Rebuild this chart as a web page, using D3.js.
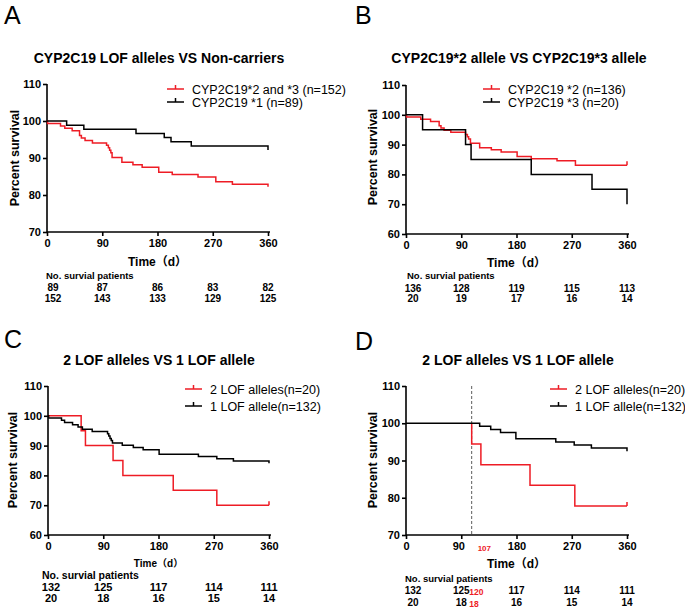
<!DOCTYPE html>
<html>
<head>
<meta charset="utf-8">
<script src="https://cdn.jsdelivr.net/npm/d3@7"></script>
<style>
  html, body { margin: 0; padding: 0; background: #fff; }
  svg { display: block; }
  text { font-family: "Liberation Sans", Arial, "Noto Sans CJK SC", sans-serif; }
</style>
</head>
<body>
<svg id="chart" width="685" height="607"></svg>
<script>
// ---------------- DATA ----------------
const timeTicks = [0, 90, 180, 270, 360];
const panelLetters = ["A", "B", "C", "D"];
const tableHeader = "No. survial patients";
const yAxisLabel = "Percent survival";
const xAxisLabel = "Time（d）";

// Panel A
const aTitle = "CYP2C19 LOF alleles VS Non-carriers";
const aYTicks = [70, 80, 90, 100, 110];
const aLegend = ["CYP2C19*2 and *3 (n=152)", "CYP2C19 *1 (n=89)"];
const aLofTimes = [0, 1, 22, 29, 41, 53, 56, 62, 74, 97, 100, 102, 104, 106, 122, 140, 155, 182, 204, 246, 275, 302, 360];
const aLofSurv  = [100, 99.34, 98.68, 98.03, 97.37, 96.05, 95.39, 94.74, 94.08, 93.42, 92.76, 92.11, 91.45, 90.13, 88.82, 88.16, 87.5, 86.18, 85.53, 84.87, 83.55, 82.89, 82.24];
const aNonTimes = [0, 32, 60, 145, 191, 202, 235, 360];
const aNonSurv  = [100, 98.88, 97.75, 96.63, 95.51, 94.38, 93.26, 92.13];
const aTableRow1 = [89, 87, 86, 83, 82];
const aTableRow2 = [152, 143, 133, 129, 125];

// Panel B
const bTitle = "CYP2C19*2 allele VS CYP2C19*3 allele";
const bYTicks = [60, 70, 80, 90, 100, 110];
const bLegend = ["CYP2C19 *2 (n=136)", "CYP2C19 *3 (n=20)"];
const bStar2Times = [0, 1, 24, 40, 54, 57, 62, 73, 97, 100, 102, 105, 120, 139, 155, 181, 204, 246, 276];
const bStar2Surv  = [100, 99.26, 98.53, 97.79, 96.32, 95.59, 94.85, 94.12, 93.38, 92.65, 91.91, 90.44, 88.97, 88.24, 87.5, 86.03, 85.29, 84.56, 83.09];
const bStar3Times = [0, 27, 97, 106, 204, 303, 360];
const bStar3Surv  = [100, 95, 90, 85, 80, 75, 70];
const bTableRow1 = [136, 128, 119, 115, 113];
const bTableRow2 = [20, 19, 17, 16, 14];

// Panel C
const cTitle = "2 LOF alleles VS 1 LOF allele";
const cYTicks = [60, 70, 80, 90, 100, 110];
const cLegend = ["2 LOF alleles(n=20)", "1 LOF allele(n=132)"];
const cTwoTimes = [0, 54, 61, 106, 122, 204, 275];
const cTwoSurv  = [100, 95, 90, 85, 80, 75, 70];
const cOneTimes = [0, 1, 22, 27, 40, 49, 56, 72, 97, 99, 101, 103, 105, 121, 139, 155, 181, 245, 275, 302, 360];
const cOneSurv  = [100, 99.24, 98.48, 97.73, 96.97, 96.21, 95.45, 94.70, 93.94, 93.18, 92.42, 91.67, 90.91, 90.15, 89.39, 88.64, 87.12, 86.36, 85.61, 84.85, 84.09];
const cTableRow1 = [132, 125, 117, 114, 111];
const cTableRow2 = [20, 18, 16, 15, 14];

// Panel D (landmark analysis from day 107)
const dTitle = "2 LOF alleles VS 1 LOF allele";
const dYTicks = [70, 80, 90, 100, 110];
const dLegend = ["2 LOF alleles(n=20)", "1 LOF allele(n=132)"];
const dLandmark = 107;
const dTwoTimes = [107, 107, 122, 202, 275];
const dTwoSurv  = [100, 94.44, 88.89, 83.33, 77.78];
const dOneTimes = [0, 120, 138, 154, 179, 244, 274, 302, 360];
const dOneSurv  = [100, 99.17, 98.33, 97.5, 95.83, 95.0, 94.17, 93.33, 92.5];
const dTableRow1 = [132, 125, 117, 114, 111];
const dTableRow2 = [20, 18, 16, 15, 14];
const dLandmarkCounts = [120, 18];

// ---------------- DRAWING ----------------
const RED = "#ee1c25";
const svg = d3.select("#chart");
svg.append("rect").attr("width", 685).attr("height", 607).attr("fill", "#fff");

function drawPanel(p) {
  const g = svg.append("g");
  const x = d3.scaleLinear().domain([0, 360]).range([p.x0, p.x1]);
  const y = d3.scaleLinear().domain(p.yDomain).range([p.yBot, p.yTop]);

  // panel letter
  g.append("text").attr("x", p.letterX).attr("y", p.letterY)
    .attr("font-size", 25).attr("font-weight", "normal").text(p.letter);
  // title
  g.append("text").attr("x", p.titleX).attr("y", p.titleY).attr("text-anchor", "middle")
    .attr("font-size", 14).attr("font-weight", "bold").text(p.title);

  // axes
  const yAxis = d3.axisLeft(y).tickValues(p.yTicks).tickSize(4).tickPadding(2).tickSizeOuter(0);
  const xAxis = d3.axisBottom(x).tickValues(timeTicks).tickSize(4).tickPadding(3).tickSizeOuter(0);
  const ya = g.append("g").attr("transform", `translate(${p.x0},0)`).call(yAxis);
  const xa = g.append("g").attr("transform", `translate(0,${p.yBot})`).call(xAxis);
  [ya, xa].forEach(a => {
    a.select(".domain").attr("stroke", "#000").attr("stroke-width", 1.6);
    a.selectAll(".tick line").attr("stroke", "#000").attr("stroke-width", 1.6);
    a.selectAll(".tick text").attr("fill", "#000").attr("font-size", 11).attr("font-weight", "bold")
      .attr("font-family", '"Liberation Sans", Arial, sans-serif');
  });
  xa.select(".domain").attr("d", `M${p.x0},0H${p.x1 + 2}`);
  ya.select(".domain").attr("d", `M0,${p.yBot}V${p.yTop}`);
  if (p.shift90) xa.selectAll(".tick text").filter(d => d === 90).attr("dx", -3);

  // y label
  g.append("text").attr("transform", `translate(${p.yLabelX},${p.yLabelY}) rotate(-90)`)
    .attr("text-anchor", "middle").attr("font-size", 12.5).attr("font-weight", "bold").text(yAxisLabel);
  // x label
  g.append("text").attr("x", (p.x0 + p.x1) / 2).attr("y", p.xLabelY).attr("text-anchor", "middle")
    .attr("font-size", p.xLabelSize).attr("font-weight", "bold").text(xAxisLabel);

  // landmark dashed line
  if (p.landmark !== undefined) {
    g.append("line").attr("x1", x(p.landmark)).attr("x2", x(p.landmark))
      .attr("y1", y(p.yDomain[1])).attr("y2", p.yBot)
      .attr("stroke", "#333").attr("stroke-width", 0.8).attr("stroke-dasharray", "3,2");
    g.append("text").attr("x", x(p.landmark) + 6).attr("y", p.yBot + 16).attr("text-anchor", "start")
      .attr("font-size", 8).attr("font-weight", "bold").attr("fill", RED).text(p.landmark);
  }

  // curves
  const line = d3.line().x(d => x(d[0])).y(d => y(d[1])).curve(d3.curveStepAfter);
  p.series.forEach(s => {
    const pts = s.times.map((t, i) => [t, s.surv[i]]);
    const last = pts[pts.length - 1];
    if (last[0] < 360) pts.push([360, last[1]]);
    g.append("path").attr("d", line(pts)).attr("fill", "none")
      .attr("stroke", s.color).attr("stroke-width", 1.5);
    if (s.censorEnd) {
      g.append("line").attr("x1", x(360)).attr("x2", x(360))
        .attr("y1", y(last[1])).attr("y2", y(last[1]) - 4)
        .attr("stroke", s.color).attr("stroke-width", 1.5);
    }
  });

  // legend
  p.series.forEach((s, i) => {
    const ly = p.legY + i * p.legDy;
    g.append("line").attr("x1", p.legX).attr("x2", p.legX + 17).attr("y1", ly).attr("y2", ly)
      .attr("stroke", s.color).attr("stroke-width", 1.5);
    g.append("line").attr("x1", p.legX + 8.5).attr("x2", p.legX + 8.5).attr("y1", ly).attr("y2", ly - 4)
      .attr("stroke", s.color).attr("stroke-width", 1.5);
    g.append("text").attr("x", p.legX + 25).attr("y", ly + 4.5)
      .attr("font-size", 12.5).text(s.label);
  });

  // table
  g.append("text").attr("x", p.tabX).attr("y", p.tabHeadY).attr("font-size", p.tabHeadSize)
    .attr("font-weight", "bold").text(tableHeader);
  p.rows.forEach((row, r) => {
    row.forEach((v, i) => {
      const cx = x(timeTicks[i]) + (i === 0 ? p.firstColDx : 0);
      g.append("text").attr("x", cx).attr("y", p.tabRowY[r]).attr("text-anchor", "middle")
        .attr("font-size", p.tabNumSize).attr("font-weight", "bold").text(v);
    });
  });
  if (p.extraCounts) {
    p.extraCounts.forEach((v, r) => {
      g.append("text").attr("x", x(90) + 8).attr("y", p.tabRowY[r] + 0.5)
        .attr("font-size", 8.5).attr("font-weight", "bold").attr("fill", RED).text(v);
    });
  }
}

drawPanel({
  letter: panelLetters[0], letterX: 4, letterY: 24, title: aTitle, titleX: 159, titleY: 63,
  x0: 47, x1: 268, yTop: 84, yBot: 232, yDomain: [70, 110], yTicks: aYTicks,
  yLabelX: 19, yLabelY: 158, xLabelY: 266, xLabelSize: 12,
  legX: 167, legY: 89, legDy: 13,
  series: [
    { times: aLofTimes, surv: aLofSurv, color: RED, label: aLegend[0] },
    { times: aNonTimes, surv: aNonSurv, color: "#000", label: aLegend[1] }
  ],
  tabX: 46, tabHeadY: 279, tabHeadSize: 9.5, tabRowY: [291, 302], tabNumSize: 10, firstColDx: 6,
  rows: [aTableRow1, aTableRow2]
});

drawPanel({
  letter: panelLetters[1], letterX: 355, letterY: 24, title: bTitle, titleX: 519, titleY: 63,
  x0: 406, x1: 627, yTop: 85, yBot: 234, yDomain: [60, 110], yTicks: bYTicks,
  yLabelX: 377, yLabelY: 157, xLabelY: 267, xLabelSize: 12,
  legX: 483, legY: 89, legDy: 13,
  series: [
    { times: bStar2Times, surv: bStar2Surv, color: RED, label: bLegend[0], censorEnd: true },
    { times: bStar3Times, surv: bStar3Surv, color: "#000", label: bLegend[1] }
  ],
  tabX: 407, tabHeadY: 279, tabHeadSize: 9.5, tabRowY: [292, 302], tabNumSize: 10, firstColDx: 7,
  rows: [bTableRow1, bTableRow2]
});

drawPanel({
  letter: panelLetters[2], letterX: 4, letterY: 348, title: cTitle, titleX: 159, titleY: 365,
  x0: 48, x1: 269, yTop: 386, yBot: 535, yDomain: [60, 110], yTicks: cYTicks,
  yLabelX: 17, yLabelY: 460, xLabelY: 567, xLabelSize: 10,
  legX: 185, legY: 389, legDy: 17,
  series: [
    { times: cTwoTimes, surv: cTwoSurv, color: RED, label: cLegend[0], censorEnd: true },
    { times: cOneTimes, surv: cOneSurv, color: "#000", label: cLegend[1] }
  ],
  tabX: 42, tabHeadY: 579, tabHeadSize: 10.5, tabRowY: [591, 602], tabNumSize: 11, firstColDx: 3,
  rows: [cTableRow1, cTableRow2]
});

drawPanel({
  letter: panelLetters[3], letterX: 355, letterY: 350, title: dTitle, titleX: 518, titleY: 365,
  x0: 406, x1: 627, yTop: 386, yBot: 535, yDomain: [70, 110], yTicks: dYTicks,
  yLabelX: 377, yLabelY: 460, xLabelY: 568, xLabelSize: 12, shift90: true,
  landmark: dLandmark, extraCounts: dLandmarkCounts,
  legX: 550, legY: 389, legDy: 17,
  series: [
    { times: dTwoTimes, surv: dTwoSurv, color: RED, label: dLegend[0], censorEnd: true },
    { times: dOneTimes, surv: dOneSurv, color: "#000", label: dLegend[1] }
  ],
  tabX: 405, tabHeadY: 582, tabHeadSize: 9.5, tabRowY: [594, 606], tabNumSize: 10, firstColDx: 7,
  rows: [dTableRow1, dTableRow2]
});
</script>
</body>
</html>
